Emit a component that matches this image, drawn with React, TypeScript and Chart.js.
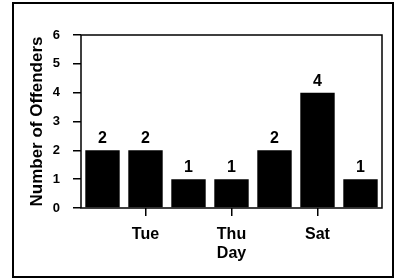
import React, { useEffect, useRef } from 'react';
import { Chart, registerables } from 'chart.js';

Chart.register(...registerables);

const days = ['Mon', 'Tue', 'Wed', 'Thu', 'Fri', 'Sat', 'Sun'];
const offenders = [2, 2, 1, 1, 2, 4, 1];
const labeledDays = ['Tue', 'Thu', 'Sat'];
const yMin = 0;
const yMax = 6;
const xTitle = 'Day';
const yTitle = 'Number of Offenders';

const FONT = '"Liberation Sans", Arial, sans-serif';

export default function App() {
  const ref = useRef<HTMLCanvasElement>(null);

  useEffect(() => {
    document.body.style.margin = '0';
    const frame = {
      id: 'plotFrame',
      afterDatasetsDraw(chart: any) {
        const { ctx, chartArea: a } = chart;
        ctx.save();
        ctx.strokeStyle = '#000';
        ctx.lineWidth = 1.5;
        ctx.strokeRect(a.left, a.top, a.right - a.left, a.bottom - a.top);
        ctx.restore();
      },
    };
    const valueLabels = {
      id: 'valueLabels',
      afterDatasetsDraw(chart: any) {
        const { ctx } = chart;
        const meta = chart.getDatasetMeta(0);
        ctx.save();
        ctx.fillStyle = '#000';
        ctx.font = `bold 16px ${FONT}`;
        ctx.textAlign = 'center';
        ctx.textBaseline = 'alphabetic';
        meta.data.forEach((bar: any, i: number) => {
          ctx.fillText(String(offenders[i]), bar.x, bar.y - 7);
        });
        ctx.restore();
      },
    };

    const chart = new Chart(ref.current!, {
      type: 'bar',
      data: {
        labels: days,
        datasets: [
          {
            data: offenders,
            backgroundColor: '#000',
            borderWidth: 0,
            barPercentage: 0.8,
            categoryPercentage: 1,
          },
        ],
      },
      options: {
        animation: false,
        responsive: true,
        maintainAspectRatio: false,
        layout: { padding: { top: 31, right: 10, left: 0, bottom: 0 } },
        plugins: { legend: { display: false }, tooltip: { enabled: false } },
        scales: {
          x: {
            grid: {
              offset: false,
              drawOnChartArea: false,
              tickLength: 8,
              lineWidth: 1.5,
              color: (c: any) =>
                labeledDays.includes(days[c.index]) ? '#000' : 'rgba(0,0,0,0)',
            },
            border: { display: false },
            ticks: {
              autoSkip: false,
              maxRotation: 0,
              padding: 9,
              color: '#000',
              font: { family: FONT, size: 16, weight: 'bold' },
              callback: (_v: any, i: number) =>
                labeledDays.includes(days[i]) ? days[i] : '',
            },
            title: {
              display: true,
              text: xTitle,
              color: '#000',
              font: { family: FONT, size: 16, weight: 'bold' },
              padding: { top: 0, bottom: 13 },
            },
            afterFit: (s: any) => {
              s.height = 68;
            },
          },
          y: {
            min: yMin,
            max: yMax,
            grid: {
              drawOnChartArea: false,
              tickLength: 8,
              lineWidth: 1.5,
              color: '#000',
            },
            border: { display: false },
            ticks: {
              stepSize: 1,
              padding: 13,
              color: '#000',
              font: { family: FONT, size: 13, weight: 'bold' },
            },
            title: {
              display: true,
              text: yTitle,
              color: '#000',
              font: { family: FONT, size: 17, weight: 'bold' },
              padding: { top: 13, bottom: 0 },
            },
            afterFit: (s: any) => {
              s.width = 67;
            },
          },
        },
      },
      plugins: [frame, valueLabels],
    });
    return () => chart.destroy();
  }, []);

  return (
    <div
      style={{
        position: 'fixed',
        left: 12,
        top: 2,
        width: 382,
        height: 276,
        border: '2px solid #000',
        boxSizing: 'border-box',
        background: '#fff',
      }}
    >
      <canvas ref={ref} />
    </div>
  );
}
